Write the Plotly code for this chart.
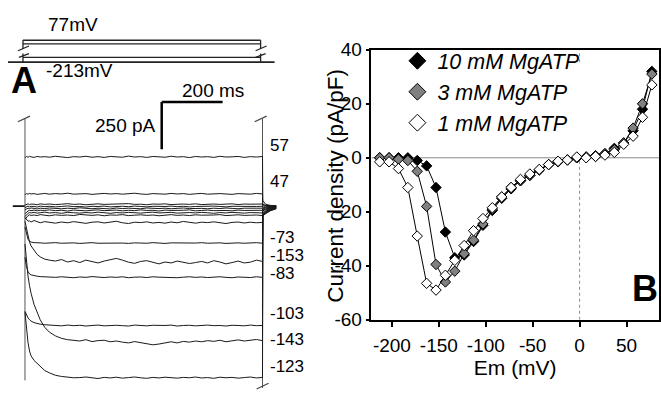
import plotly.graph_objects as go

W, H = 661, 399
FONT = "Liberation Sans, Arial, sans-serif"

# ---------------- Panel B data (I-V relation) ----------------
V_MV = [-213, -203, -193, -183, -173, -163, -153, -143, -133, -123,
        -113, -103, -93, -83, -73, -63, -53, -43, -33, -23,
        -13, -3, 7, 17, 27, 37, 47, 57, 67, 77]
MG10 = [0, 0, 0, 0, -1, -3, -11, -27.5, -37, -36,
        -31, -25, -19.5, -15, -11.5, -8.5, -6.5, -4.5, -2.5, -1.5,
        -0.8, 0, 0.3, 0.5, 1.5, 3.5, 5.5, 10, 18, 32]
MG3 = [0, 0, -0.5, -1, -5, -18, -39.5, -46, -42, -35.5,
       -30.5, -24.5, -19, -14.5, -11, -8.5, -6.5, -4.5, -2.5, -1.5,
       -0.8, 0, 0.3, 0.8, 1.5, 3, 5.5, 11, 20, 31]
MG1 = [-1.5, -1.5, -4, -11, -29, -46.5, -49, -43.5, -38, -32.5,
       -27, -22.5, -18.5, -14.5, -11, -8, -6, -4.3, -2.5, -1.3,
       -0.8, 0.3, 0, 0.5, 1, 2, 5, 8, 15, 27]
SERIES_NAMES = ["10 mM MgATP", "3 mM MgATP", "1 mM MgATP"]
SERIES_FILL = ["#000000", "#808080", "#ffffff"]
B_XTICKS = [-200, -150, -100, -50, 0, 50]
B_XTICKTEXT = ["-200", "-150", "-100", "-50", "0", "50"]
B_YTICKS = [40, 20, 0, -20, -40, -60]
B_YTICKTEXT = ["40", "20", "0", "-20", "-40", "-60"]

# ---------------- Panel A data (current traces, pA vs ms) ----------------
T_MS = [0, 5, 10, 15, 20, 30, 40, 50, 65, 80,
        100, 120, 140, 160, 180, 200, 220, 240, 260, 280,
        300, 320, 340, 360, 380, 400, 420, 440, 460, 480,
        500, 520, 540, 560, 580, 600, 620, 640, 660, 680,
        700, 720, 740, 760, 780]
TAIL_MS = [781, 790, 805, 825]
HOLD_MS = [-40, 0]
HOLD_PA = [0, 0]

TRACES = {
    "57": [255, 262, 258, 263, 260, 257, 262, 259, 261, 258,
           263, 260, 256, 261, 259, 263, 258, 261, 257, 262,
           260, 258, 264, 259, 261, 257, 262, 260, 258, 263,
           259, 261, 256, 262, 259, 261, 257, 263, 259, 260,
           262, 257, 261, 259, 262],
    "47": [60, 66, 63, 67, 64, 66, 62, 65, 67, 63,
           66, 64, 68, 63, 65, 66, 62, 65, 67, 64,
           66, 63, 65, 68, 64, 62, 66, 65, 63, 67,
           64, 66, 62, 65, 67, 63, 65, 66, 64, 62,
           66, 65, 63, 67, 64],
    "37": [5, 9, 12, 8, 11, 10, 7, 12, 9, 11,
           8, 10, 13, 9, 11, 7, 10, 12, 9, 10,
           8, 11, 13, 9, 10, 7, 11, 10, 12, 8,
           10, 11, 9, 12, 8, 10, 11, 9, 10, 12,
           8, 11, 10, 9, 11],
    "27": [-8, -3, 0, -4, -1, -2, -5, 0, -3, -1,
           -4, -2, 1, -3, -2, -5, -1, -2, 0, -4,
           -2, -1, -3, 0, -2, -4, -1, -3, -2, 0,
           -3, -1, -4, -2, -1, -3, 0, -2, -4, -1,
           -2, -3, 0, -2, -1],
    "17": [-20, -14, -11, -13, -10, -12, -15, -11, -13, -10,
           -12, -14, -11, -13, -9, -12, -14, -11, -12, -15,
           -10, -13, -11, -12, -14, -10, -12, -13, -11, -14,
           -12, -10, -13, -11, -12, -14, -11, -13, -10, -12,
           -14, -11, -12, -13, -11],
    "7": [-40, -30, -26, -22, -24, -21, -25, -22, -23, -20,
          -24, -22, -26, -21, -23, -25, -22, -20, -24, -23,
          -21, -25, -22, -24, -20, -23, -22, -26, -21, -23,
          -24, -22, -20, -25, -23, -21, -24, -22, -23, -25,
          -21, -23, -22, -24, -22],
    "-3": [-55, -45, -38, -34, -36, -33, -37, -35, -32, -36,
           -34, -38, -33, -35, -37, -34, -36, -32, -35, -38,
           -34, -36, -33, -35, -37, -34, -32, -36, -35, -33,
           -37, -35, -34, -36, -33, -35, -38, -34, -36, -33,
           -35, -37, -34, -35, -36],
    "-13": [-70, -58, -50, -46, -49, -47, -50, -45, -48, -51,
            -46, -49, -47, -50, -44, -48, -49, -46, -51, -47,
            -48, -45, -50, -48, -46, -49, -47, -51, -48, -45,
            -49, -47, -50, -46, -48, -49, -47, -45, -50, -48,
            -46, -49, -48, -47, -50],
    "-53": [-60, -72, -80, -78, -84, -76, -80, -88, -82, -86,
            -90, -84, -88, -82, -87, -91, -85, -83, -89, -86,
            -80, -88, -92, -85, -87, -83, -89, -86, -90, -84,
            -88, -81, -86, -90, -85, -87, -83, -88, -92, -86,
            -84, -89, -85, -88, -86],
    "-73": [-110, -150, -175, -185, -190, -193, -195, -194, -196, -195,
            -193, -196, -195, -194, -197, -195, -193, -196, -195, -194,
            -196, -195, -197, -194, -195, -196, -193, -195, -197, -194,
            -195, -196, -194, -195, -193, -196, -195, -194, -197, -195,
            -194, -196, -195, -193, -196],
    "-153": [-80, -120, -160, -190, -210, -235, -255, -268, -280, -285,
             -290, -282, -295, -288, -298, -285, -292, -300, -290, -284,
             -276, -285, -296, -302, -292, -288, -298, -305, -295, -300,
             -290, -296, -303, -298, -292, -300, -288, -295, -305, -298,
             -290, -300, -296, -285, -292],
    "-83": [-270, -320, -345, -358, -363, -368, -370, -372, -373, -374,
            -376, -373, -375, -378, -374, -376, -372, -375, -377, -374,
            -376, -373, -378, -375, -374, -377, -373, -375, -376, -374,
            -378, -375, -373, -376, -374, -377, -375, -373, -376, -378,
            -374, -375, -377, -373, -376],
    "-103": [-555, -575, -590, -600, -607, -615, -620, -623, -626, -628,
             -630, -632, -628, -631, -629, -633, -630, -628, -632, -630,
             -629, -631, -633, -628, -630, -632, -629, -631, -630, -628,
             -633, -630, -629, -632, -630, -628, -631, -630, -633, -629,
             -630, -632, -628, -631, -630],
    "-143": [-200, -300, -370, -420, -460, -520, -565, -600, -640, -665,
             -685, -698, -705, -708, -712, -705, -715, -710, -708, -716,
             -712, -718, -722, -715, -720, -725, -732, -728, -720, -716,
             -722, -714, -718, -712, -716, -710, -714, -708, -716, -712,
             -706, -712, -708, -704, -710],
    "-123": [-560, -650, -720, -765, -790, -815, -830, -850, -868, -880,
             -893, -899, -902, -906, -905, -902, -906, -910, -904, -907,
             -903, -908, -905, -902, -906, -909, -904, -907, -903, -905,
             -908, -904, -906, -902, -907, -905, -909, -903, -906, -904,
             -908, -905, -902, -907, -904],
}
TAILS = {
    "57": [30, 10, 4, 2], "47": [10, 4, 2, 1], "37": [5, 2, 1, 0],
    "27": [-5, -3, -2, -1], "17": [-10, -6, -4, -2], "7": [-15, -10, -6, -3],
    "-3": [-20, -14, -8, -4], "-13": [-25, -18, -10, -5], "-53": [-35, -22, -12, -6],
    "-73": [-40, -28, -15, -8], "-153": [-45, -30, -18, -10], "-83": [-45, -32, -20, -10],
    "-103": [-50, -35, -22, -12], "-143": [-50, -38, -24, -12], "-123": [-50, -40, -25, -14],
}
LABELED = ["57", "47", "-73", "-153", "-83", "-103", "-143", "-123"]
CAP_LEFT_PA = [460, -920]
CAP_RIGHT_PA = [460, -960]
SCALE_MS = 200
SCALE_PA = 250

for k, v in TRACES.items():
    assert len(v) == len(T_MS), (k, len(v))
for arr in (MG10, MG3, MG1):
    assert len(arr) == len(V_MV)


def px(x):
    return x / W


def py(y):
    return 1 - y / H


fig = go.Figure()

# ---------- Panel A traces ----------
fig.add_trace(go.Scatter(x=HOLD_MS, y=HOLD_PA, mode="lines", xaxis="x2", yaxis="y2",
                         line=dict(color="#111", width=1.6), showlegend=False, hoverinfo="skip"))
fig.add_trace(go.Scatter(x=[T_MS[0], T_MS[0]], y=CAP_LEFT_PA, mode="lines", xaxis="x2", yaxis="y2",
                         line=dict(color="#555", width=1), showlegend=False, hoverinfo="skip"))
fig.add_trace(go.Scatter(x=[T_MS[-1], T_MS[-1]], y=CAP_RIGHT_PA, mode="lines", xaxis="x2", yaxis="y2",
                         line=dict(color="#555", width=1), showlegend=False, hoverinfo="skip"))
for k, v in TRACES.items():
    fig.add_trace(go.Scatter(x=T_MS + TAIL_MS, y=v + TAILS[k], mode="lines", xaxis="x2", yaxis="y2",
                             line=dict(color="#1a1a1a", width=1), showlegend=False, hoverinfo="skip"))

# ---------- Panel B series ----------
for name, vals, fill in zip(SERIES_NAMES, [MG10, MG3, MG1], SERIES_FILL):
    fig.add_trace(go.Scatter(x=V_MV, y=vals, mode="lines+markers", name=name, showlegend=False,
                             line=dict(color="black", width=1),
                             marker=dict(symbol="diamond", size=8, color=fill,
                                         line=dict(color="black", width=1))))
for name, fill in zip(SERIES_NAMES, SERIES_FILL):
    fig.add_trace(go.Scatter(x=[None], y=[None], mode="markers", name=name,
                             marker=dict(symbol="diamond", size=13, color=fill,
                                         line=dict(color="black", width=1))))

shapes = []
# zero reference lines in panel B (vertical one interrupted behind the legend)
shapes.append(dict(type="line", xref="x", yref="y", x0=0, x1=0, y0=-60, y1=1,
                   line=dict(color="#8a8a8a", width=1, dash="dot"), layer="below"))
shapes.append(dict(type="line", xref="x", yref="y", x0=0, x1=0, y0=35.4, y1=40,
                   line=dict(color="#8a8a8a", width=1, dash="dot"), layer="below"))
shapes.append(dict(type="line", xref="x", yref="y", x0=-221.8, x1=84.6, y0=0, y1=0,
                   line=dict(color="#8a8a8a", width=1), layer="below"))

# scale bar in panel A (data units)
sb_t0, sb_i0 = 449, 550
shapes.append(dict(type="line", xref="x2", yref="y2", x0=sb_t0, x1=sb_t0 + SCALE_MS, y0=sb_i0, y1=sb_i0,
                   line=dict(color="black", width=2.5)))
shapes.append(dict(type="line", xref="x2", yref="y2", x0=sb_t0, x1=sb_t0, y0=sb_i0, y1=sb_i0 - SCALE_PA,
                   line=dict(color="black", width=2.5)))


def seg(x0, y0, x1, y1, w=1.3, color="#222"):
    shapes.append(dict(type="line", xref="paper", yref="paper", x0=px(x0), y0=py(y0),
                       x1=px(x1), y1=py(y1), line=dict(color=color, width=w)))


# voltage protocol schematic
seg(8, 55, 275, 55, 1.6)
seg(23, 32, 261, 32, 1.6)
seg(23, 35.7, 261, 35.7, 1.3)
seg(23, 32, 23, 41)
seg(261, 32, 261, 41)
seg(23, 50, 261, 50, 1.3)
seg(23, 46, 23, 55)
seg(261, 46, 261, 55)
seg(18, 43, 29, 38)
seg(19, 50, 29, 46)
seg(256, 43, 267, 38)
seg(256, 50, 266, 46)
# clipped-transient caps in panel A
seg(18, 118, 30, 112, 1.2, "#444")
seg(255, 118, 267, 112, 1.2, "#444")
seg(257, 400, 269, 394, 1.2, "#444")

ann = []


def text(x, y, s, size, xanchor="left", bold=False, angle=0):
    ann.append(dict(x=px(x), y=py(y), xref="paper", yref="paper", text=("<b>%s</b>" % s) if bold else s,
                    showarrow=False, xanchor=xanchor, yanchor="middle", textangle=angle,
                    font=dict(family=FONT, size=size, color="black")))


text(46, 15, "77mV", 19)
text(44, 64, "-213mV", 19)
text(24, 74, "A", 36, "center", True)
text(213, 85, "200 ms", 19, "center")
text(158, 122, "250 pA", 19, "right")
label_y = {"57": 143, "47": 181, "-73": 240, "-153": 259, "-83": 278,
           "-103": 320, "-143": 348, "-123": 376}
for lab in LABELED:
    text(268, label_y[lab], lab, 17)
text(646, 294, "B", 36, "center", True)
# y-axis title of panel B
text(336, 185, "Current density (pA/pF)", 22.5, "center", False, -90)

fig.update_layout(
    width=W, height=H, margin=dict(l=0, r=0, t=0, b=0),
    paper_bgcolor="white", plot_bgcolor="white",
    font=dict(family=FONT, color="black"),
    shapes=shapes, annotations=ann,
    showlegend=True,
    legend=dict(x=px(398), y=py(32), xanchor="left", yanchor="top",
                bgcolor="rgba(0,0,0,0)", borderwidth=0,
                font=dict(family=FONT, size=21.5, style="italic", color="black"),
                tracegroupgap=0),
    xaxis=dict(domain=[px(372), px(660)], range=[-221.8, 84.6],
               tickvals=B_XTICKS, ticktext=B_XTICKTEXT,
               ticks="outside", ticklen=5, tickwidth=1.5, tickcolor="black",
               showline=True, linewidth=1.5, linecolor="black", mirror=True,
               showgrid=False, zeroline=False, tickfont=dict(size=19),
               ticklabelstandoff=3,
               title=dict(text="Em (mV)", font=dict(size=21), standoff=0), anchor="y"),
    yaxis=dict(domain=[py(327), py(42)], range=[-60, 40],
               tickvals=B_YTICKS, ticktext=B_YTICKTEXT,
               ticks="outside", ticklen=4, tickwidth=1.5, tickcolor="black",
               showline=True, linewidth=1.5, linecolor="black", mirror=True,
               showgrid=False, zeroline=False, tickfont=dict(size=19),
               anchor="x"),
    xaxis2=dict(domain=[0, px(330)], range=[-82, 1000], visible=False, anchor="y2"),
    yaxis2=dict(domain=[0, 1], range=[-960, 1035], visible=False, anchor="x2"),
)

fig.write_html("out.html")
